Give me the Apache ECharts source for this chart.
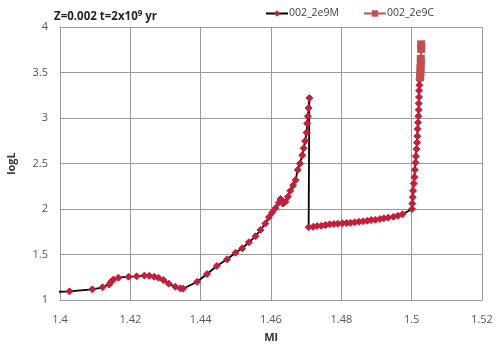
<!DOCTYPE html>
<html>
<head>
<meta charset="utf-8">
<script src="https://cdn.jsdelivr.net/npm/echarts@6/dist/echarts.min.js"></script>
<style>
  html, body { margin: 0; padding: 0; background: #fff; }
  #chart { width: 500px; height: 346px; }
</style>
</head>
<body>
<div id="chart"></div>
<script>
// track 002_2e9M: [Ml, logL]
var trackM = [
  [1.398, 1.088], [1.4027, 1.095], [1.4092, 1.117], [1.4121, 1.14], [1.4140, 1.17],
  [1.4145, 1.20], [1.4152, 1.225], [1.4166, 1.245], [1.4195, 1.256], [1.4218, 1.26],
  [1.4240, 1.268], [1.4254, 1.266], [1.4268, 1.256], [1.4280, 1.245], [1.4294, 1.22],
  [1.4309, 1.18], [1.4328, 1.146], [1.4342, 1.128], [1.4350, 1.124], [1.4390, 1.20],
  [1.4418, 1.285], [1.4446, 1.374], [1.4475, 1.447], [1.4499, 1.52], [1.4518, 1.568],
  [1.4537, 1.635], [1.4556, 1.70], [1.4570, 1.77], [1.4584, 1.84], [1.4594, 1.91],
  [1.4603, 1.96], [1.4613, 2.01], [1.4622, 2.07], [1.4627, 2.11], [1.4634, 2.06],
  [1.4641, 2.08], [1.4648, 2.135], [1.4655, 2.20], [1.4663, 2.26], [1.4670, 2.32],
  [1.4676, 2.43], [1.4682, 2.50], [1.4689, 2.59], [1.4693, 2.667], [1.4697, 2.747],
  [1.4701, 2.84], [1.4703, 2.94], [1.4705, 3.02], [1.4707, 3.11], [1.4709, 3.22],
  [1.4707, 1.799], [1.4720, 1.805], [1.4731, 1.813], [1.4743, 1.816], [1.4755, 1.824],
  [1.4767, 1.832], [1.4779, 1.835], [1.4790, 1.838], [1.4803, 1.843], [1.4815, 1.846],
  [1.4826, 1.849], [1.4838, 1.854], [1.4850, 1.860], [1.4862, 1.865], [1.4874, 1.871],
  [1.4885, 1.879], [1.4897, 1.882], [1.4910, 1.890], [1.4921, 1.898], [1.4933, 1.904],
  [1.4948, 1.915], [1.4961, 1.926], [1.4974, 1.942],
  [1.5001, 2.00], [1.5002, 2.06], [1.5003, 2.13], [1.5004, 2.20], [1.5006, 2.28],
  [1.5008, 2.35], [1.5009, 2.43], [1.5011, 2.51], [1.5012, 2.58], [1.5014, 2.66],
  [1.5015, 2.73], [1.5016, 2.80], [1.5017, 2.88], [1.5018, 2.95], [1.5019, 3.02],
  [1.5020, 3.09], [1.5020, 3.16], [1.5021, 3.23], [1.5021, 3.30], [1.5022, 3.36],
  [1.5022, 3.42]
]

// track 002_2e9C
var trackC = [
  [1.5024, 3.45], [1.5025, 3.50], [1.5025, 3.55], [1.5026, 3.60], [1.5026, 3.65],
  [1.5027, 3.76], [1.5027, 3.81]
]

var xTicks = [1.4, 1.42, 1.44, 1.46, 1.48, 1.5, 1.52]
var yTicks = [1, 1.5, 2, 2.5, 3, 3.5, 4]

var font = '"Open Sans", sans-serif'
var chart = echarts.init(document.getElementById('chart'))

chart.setOption({
  animation: false,
  backgroundColor: '#fff',
  title: {
    text: 'Z=0.002 t=2x10{sup|9} yr',
    left: 49,
    top: 5,
    textStyle: {
      fontFamily: font,
      fontSize: 11.5,
      fontWeight: 'bold',
      color: '#222',
      rich: {
        sup: { fontSize: 8, fontWeight: 'bold', verticalAlign: 'top', padding: [0, 0, 6, 0], color: '#222', fontFamily: font }
      }
    }
  },
  legend: {
    top: 3,
    left: 260,
    itemGap: 24,
    itemWidth: 22,
    itemHeight: 8,
    textStyle: { fontFamily: font, fontSize: 10.5, color: '#404040', padding: [0, 0, 0, -4] },
    data: ['002_2e9M', '002_2e9C']
  },
  grid: { left: 60, right: 18, top: 27, bottom: 46, outerBoundsMode: 'none' },
  xAxis: {
    type: 'value',
    min: 1.4,
    max: 1.52,
    interval: 0.02,
    name: 'Ml',
    nameLocation: 'middle',
    nameGap: 32,
    nameTextStyle: { fontFamily: font, fontSize: 11, fontWeight: 'bold', color: '#333' },
    axisLine: { lineStyle: { color: '#999' } },
    axisTick: { show: false },
    axisLabel: {
      fontFamily: font, fontSize: 11, color: '#555', margin: 14,
      formatter: function (v) { return String(parseFloat(v.toFixed(2))) },
      customValues: xTicks
    },
    splitLine: { lineStyle: { color: '#999' } }
  },
  yAxis: {
    type: 'value',
    min: 1,
    max: 4,
    interval: 0.5,
    name: 'logL',
    nameLocation: 'middle',
    nameRotate: 90,
    nameGap: 43,
    nameTextStyle: { fontFamily: font, fontSize: 11, fontWeight: 'bold', color: '#333' },
    axisLine: { show: true, lineStyle: { color: '#999' } },
    axisTick: { show: false },
    axisLabel: {
      fontFamily: font, fontSize: 11, color: '#555', margin: 12,
      formatter: function (v) { return String(parseFloat(v.toFixed(1))) },
      customValues: yTicks
    },
    splitLine: { lineStyle: { color: '#999' } }
  },
  series: [
    {
      name: '002_2e9M',
      type: 'line',
      data: trackM,
      clip: true,
      symbol: 'diamond',
      symbolSize: 7,
      showAllSymbol: true,
      lineStyle: { color: '#000', width: 1.8 },
      itemStyle: { color: '#C41E3A', borderColor: '#C41E3A' }
    },
    {
      name: '002_2e9C',
      type: 'line',
      data: trackC,
      symbol: 'rect',
      symbolSize: 8,
      showAllSymbol: true,
      lineStyle: { color: '#C0504D', width: 2 },
      itemStyle: { color: '#C0504D' }
    }
  ]
})
</script>
</body>
</html>
